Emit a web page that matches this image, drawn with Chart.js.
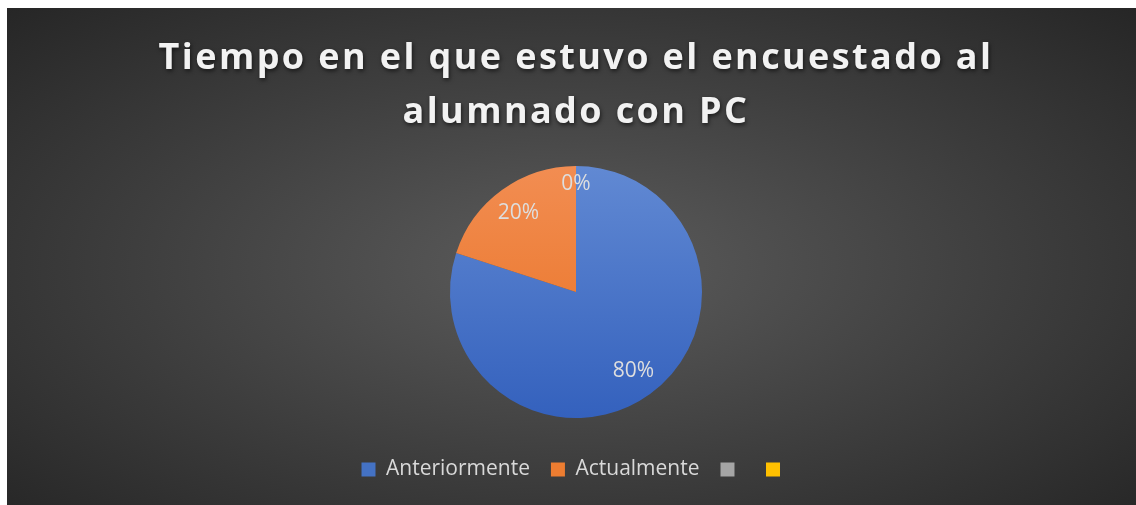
<!DOCTYPE html>
<html>
<head>
<meta charset="utf-8">
<script src="https://cdn.jsdelivr.net/npm/chart.js@4/dist/chart.umd.min.js"></script>
<style>
  html, body { margin: 0; padding: 0; background: #ffffff; }
  #bg {
    position: absolute; left: 7px; top: 8px; right: 0; bottom: 0;
    background: radial-gradient(ellipse farthest-corner at 50% 52%, #5c5c5c 0%, #3e3e3e 55%, #262626 100%);
  }
  #myChart { position: absolute; left: 0; top: 0; }
</style>
</head>
<body>
<div id="bg"></div>
<canvas id="myChart" width="1136" height="505"></canvas>
<script>
// categories and values (percent of respondents)
const categories = ["Anteriormente", "Actualmente", "", ""];
const values = [80, 20, 0, null];
const titleLines = ["Tiempo en el que estuvo el encuestado al", "alumnado con PC"];

// slice colours, light top -> dark bottom (office style)
const topColors = ["#6189d3", "#f28d52", "#b5b5b5", "#ffcf3a"];
const bottomColors = ["#3461bd", "#e8701f", "#959595", "#f2b700"];
const legendColors = ["#4472c4", "#ed7d31", "#a5a5a5", "#ffc000"];

const sliceColor = (context) => {
  const i = context.dataIndex;
  const chart = context.chart;
  const area = chart.chartArea;
  if (!area) return legendColors[i];
  const cy = (area.top + area.bottom) / 2;
  const g = chart.ctx.createLinearGradient(0, cy - 126, 0, cy + 126);
  g.addColorStop(0, topColors[i]);
  g.addColorStop(1, bottomColors[i]);
  return g;
};

// title drawn by hand so it can have letter spacing + shadow
const titlePlugin = {
  id: "spacedTitle",
  afterDraw(chart) {
    const ctx = chart.ctx;
    const area = chart.chartArea;
    const cx = (area.left + area.right) / 2;
    ctx.save();
    ctx.font = "bold 36px 'Open Sans'";
    ctx.letterSpacing = "2.4px";
    ctx.textAlign = "center";
    ctx.textBaseline = "alphabetic";
    ctx.fillStyle = "#f2f2f2";
    ctx.shadowColor = "rgba(0,0,0,0.6)";
    ctx.shadowBlur = 4;
    ctx.shadowOffsetX = 1;
    ctx.shadowOffsetY = 2;
    titleLines.forEach((line, k) => {
      ctx.fillText(line, cx, 69 + k * 54);
    });
    ctx.restore();
  }
};

// percentage labels, "inside end"
const labelPlugin = {
  id: "pctLabels",
  afterDatasetsDraw(chart) {
    const ctx = chart.ctx;
    const meta = chart.getDatasetMeta(0);
    const data = chart.data.datasets[0].data;
    const total = data.reduce((s, v) => s + (v || 0), 0);
    ctx.save();
    ctx.font = "21px 'Open Sans'";
    ctx.fillStyle = "#dedede";
    ctx.textAlign = "center";
    ctx.textBaseline = "middle";
    meta.data.forEach((arc, i) => {
      if (data[i] === null) return;
      const p = arc.getProps(["x", "y", "startAngle", "endAngle", "outerRadius"], true);
      const mid = (p.startAngle + p.endAngle) / 2;
      const txt = Math.round((data[i] / total) * 100) + "%";
      const w = ctx.measureText(txt).width;
      const h = 20;
      const c = Math.cos(mid), s = Math.sin(mid);
      const d = p.outerRadius - 8 - (Math.abs(c) * w / 2 + Math.abs(s) * h / 2);
      ctx.fillText(txt, p.x + c * d, p.y + s * d);
    });
    ctx.restore();
  }
};

const ctx = document.querySelector("#myChart").getContext("2d");

new Chart(ctx, {
  type: "pie",
  data: {
    labels: categories,
    datasets: [
      {
        data: values,
        backgroundColor: sliceColor,
        borderWidth: 0,
        radius: 126
      }
    ]
  },
  options: {
    responsive: false,
    animation: false,
    layout: { padding: { top: 146, bottom: 15, left: 16, right: 0 } },
    plugins: {
      title: { display: false },
      tooltip: { enabled: false },
      legend: {
        position: "bottom",
        labels: {
          boxWidth: 14,
          boxHeight: 14,
          padding: 21,
          color: "#d9d9d9",
          font: { family: "'Open Sans'", size: 21 },
          generateLabels: (chart) =>
            chart.data.labels.map((label, i) => ({
              text: label,
              fillStyle: legendColors[i],
              strokeStyle: legendColors[i],
              lineWidth: 0,
              fontColor: "#d9d9d9",
              hidden: false,
              index: i
            }))
        }
      }
    }
  },
  plugins: [titlePlugin, labelPlugin]
});
</script>
</body>
</html>
